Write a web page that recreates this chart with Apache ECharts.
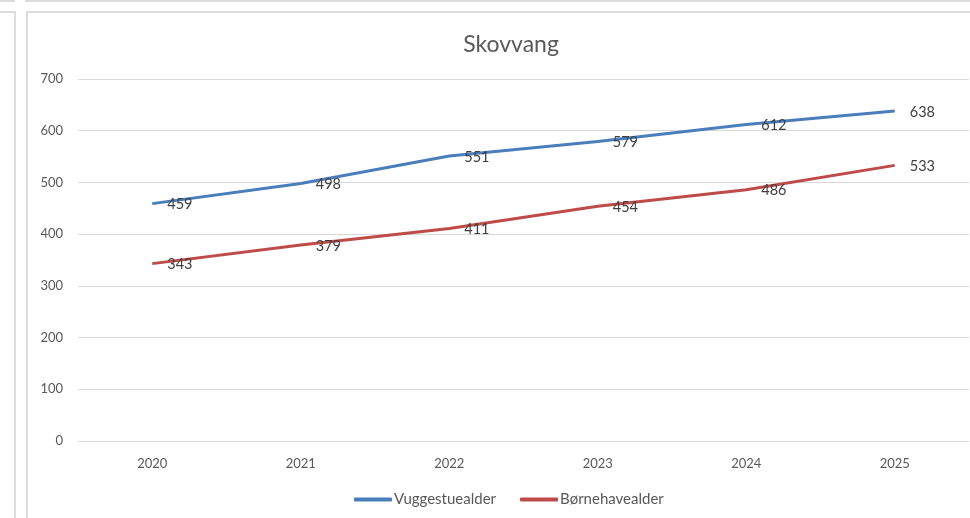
<!DOCTYPE html>
<html>
<head>
<meta charset="utf-8">
<script src="https://cdn.jsdelivr.net/npm/echarts@6/dist/echarts.min.js"></script>
<style>
  html, body { margin: 0; padding: 0; background: #fff; }
  #wrap { position: relative; width: 970px; height: 518px; overflow: hidden; }
  #chart { position: absolute; left: 0; top: 0; width: 970px; height: 518px; }
  .ln { position: absolute; background: #dcdcdc; }
</style>
</head>
<body>
<div id="wrap">
  <!-- frame lines of the spreadsheet around the chart -->
  <div class="ln" style="left:0;top:0;width:15px;height:2px;"></div>
  <div class="ln" style="left:25px;top:0;width:945px;height:2px;"></div>
  <div class="ln" style="left:0;top:11px;width:15px;height:2px;"></div>
  <div class="ln" style="left:14px;top:11px;width:2px;height:507px;"></div>
  <div class="ln" style="left:26px;top:11px;width:944px;height:2px;"></div>
  <div class="ln" style="left:26px;top:11px;width:2px;height:507px;"></div>
  <div id="chart"></div>
</div>
<script>
var years = ["2020", "2021", "2022", "2023", "2024", "2025"];
var vuggestue = [459, 498, 551, 579, 612, 638];
var boernehave = [343, 379, 411, 454, 486, 533];
var seriesNames = ["Vuggestuealder", "Børnehavealder"];
var yTicks = [0, 700, 100]; // min, max, step

var chart = echarts.init(document.getElementById("chart"));
var font = "Lato, 'Open Sans', sans-serif";

function lineSeries(name, data, color) {
  return {
    name: name,
    type: "line",
    data: data,
    symbol: "circle",
    symbolSize: 0,
    showSymbol: true,
    color: color,
    lineStyle: { width: 3, color: color },
    label: {
      show: true,
      position: "right",
      distance: 15,
      offset: [0, 1],
      color: "#404040",
      fontSize: 14.5,
      fontFamily: font
    },
    z: 2
  };
}

var option = {
  animation: false,
  title: {
    text: "Skovvang",
    left: 506,
    top: 28,
    textAlign: "center",
    textStyle: { color: "#595959", fontSize: 23, fontWeight: "normal", fontFamily: font }
  },
  legend: {
    data: seriesNames,
    bottom: 6,
    left: 349,
    icon: "roundRect",
    itemWidth: 38,
    itemHeight: 4,
    itemGap: 24,
    textStyle: { color: "#595959", fontSize: 15, fontFamily: font, padding: [0, 0, 0, -3] }
  },
  grid: { left: 78, right: 1, top: 79, height: 362 },
  xAxis: {
    type: "category",
    data: years,
    boundaryGap: true,
    axisLine: { lineStyle: { color: "#d9d9d9", width: 1 } },
    axisTick: { show: false },
    axisLabel: { color: "#595959", fontSize: 13, margin: 16, fontFamily: font }
  },
  yAxis: {
    type: "value",
    min: yTicks[0],
    max: yTicks[1],
    interval: yTicks[2],
    axisLine: { show: false },
    axisTick: { show: false },
    splitLine: { lineStyle: { color: "#d9d9d9", width: 1 } },
    axisLabel: { color: "#595959", fontSize: 13, margin: 15, fontFamily: font }
  },
  series: [
    lineSeries(seriesNames[0], vuggestue, "#4a7ebb"),
    lineSeries(seriesNames[1], boernehave, "#be4b48")
  ]
};
chart.setOption(option);
</script>
</body>
</html>
